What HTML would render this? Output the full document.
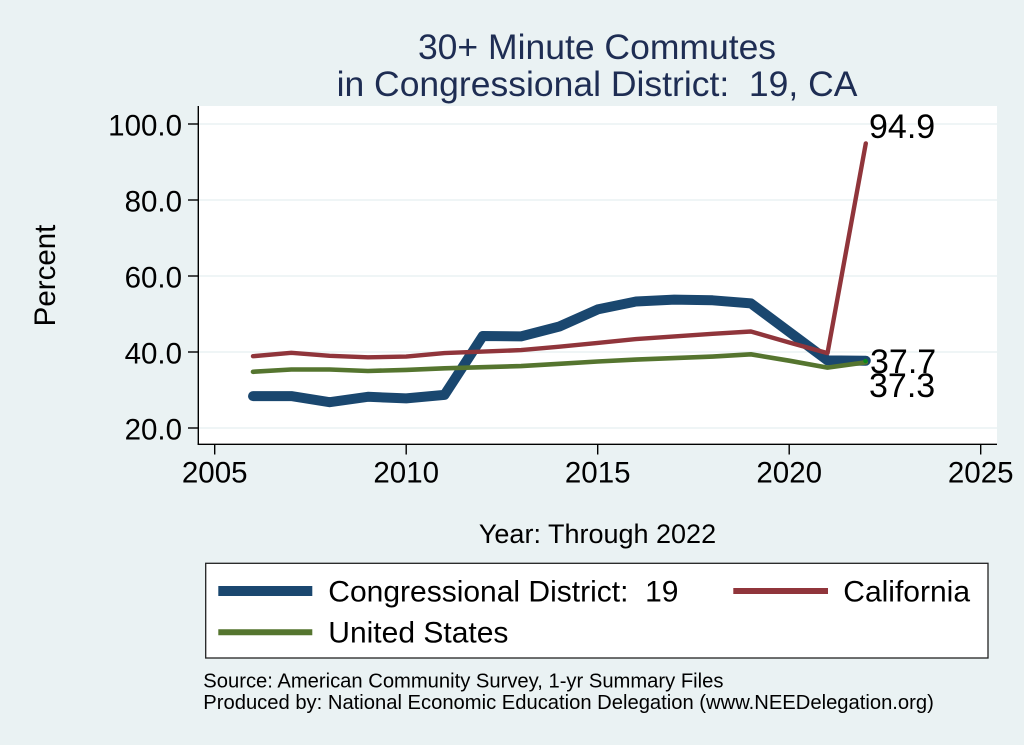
<!DOCTYPE html>
<html>
<head>
<meta charset="utf-8">
<style>
html,body{margin:0;padding:0;background:#eaf2f3;}
svg{display:block;}
text{font-family:"Liberation Sans",Arial,sans-serif;}
</style>
</head>
<body>
<svg width="1024" height="745" viewBox="0 0 1024 745" xmlns="http://www.w3.org/2000/svg">
  <rect x="0" y="0" width="1024" height="745" fill="#eaf2f3"/>
  <!-- Title -->
  <text x="597" y="59" font-size="35.5" fill="#1e2d53" text-anchor="middle">30+ Minute Commutes</text>
  <text x="597" y="96" font-size="35.5" fill="#1e2d53" text-anchor="middle" xml:space="preserve">in Congressional District:  19, CA</text>

  <!-- Plot region -->
  <rect x="198" y="106" width="799" height="338" fill="#ffffff"/>
  <!-- gridlines -->
  <g stroke="#eaf2f3" stroke-width="1.6">
    <line x1="198" y1="124" x2="997" y2="124"/>
    <line x1="198" y1="200" x2="997" y2="200"/>
    <line x1="198" y1="276" x2="997" y2="276"/>
    <line x1="198" y1="352" x2="997" y2="352"/>
    <line x1="198" y1="428" x2="997" y2="428"/>
  </g>
  <!-- axes -->
  <g stroke="#000" stroke-width="1.4" fill="none">
    <line x1="198.3" y1="106" x2="198.3" y2="444.5"/>
    <line x1="197.6" y1="444.3" x2="997" y2="444.3"/>
    <line x1="188" y1="124" x2="198" y2="124"/>
    <line x1="188" y1="200" x2="198" y2="200"/>
    <line x1="188" y1="276" x2="198" y2="276"/>
    <line x1="188" y1="352" x2="198" y2="352"/>
    <line x1="188" y1="428" x2="198" y2="428"/>
    <line x1="214.7" y1="444" x2="214.7" y2="454.5"/>
    <line x1="406.2" y1="444" x2="406.2" y2="454.5"/>
    <line x1="597.7" y1="444" x2="597.7" y2="454.5"/>
    <line x1="789.2" y1="444" x2="789.2" y2="454.5"/>
    <line x1="980.7" y1="444" x2="980.7" y2="454.5"/>
  </g>
  <!-- y tick labels -->
  <g font-size="29.5" fill="#000" text-anchor="end">
    <text x="182" y="135.5">100.0</text>
    <text x="182" y="211.5">80.0</text>
    <text x="182" y="287.5">60.0</text>
    <text x="182" y="363.5">40.0</text>
    <text x="182" y="439.5">20.0</text>
  </g>
  <!-- x tick labels -->
  <g font-size="29.5" fill="#000" text-anchor="middle">
    <text x="214.7" y="482.7">2005</text>
    <text x="406.2" y="482.7">2010</text>
    <text x="597.7" y="482.7">2015</text>
    <text x="789.2" y="482.7">2020</text>
    <text x="980.7" y="482.7">2025</text>
  </g>
  <!-- axis titles -->
  <text x="597.5" y="543" font-size="27" fill="#000" text-anchor="middle">Year: Through 2022</text>
  <text transform="translate(55,275.5) rotate(-90)" x="0" y="0" font-size="29.5" fill="#000" text-anchor="middle">Percent</text>

  <!-- Series -->
  <polyline fill="none" stroke="#1a476f" stroke-width="10" stroke-linecap="round" stroke-linejoin="round"
    points="253.0,396.1 291.3,396.1 329.6,402.2 367.9,396.8 406.2,398.4 444.5,394.9 482.8,336.0 521.1,336.4 559.4,326.5 597.7,309.4 636.0,301.5 674.3,299.6 712.6,300.3 750.9,303.4 789.2,331.9 827.5,360.4 865.8,360.7"/>
  <polyline fill="none" stroke="#90353b" stroke-width="4.4" stroke-linecap="round" stroke-linejoin="round"
    points="253.0,356.2 291.3,352.8 329.6,355.8 367.9,357.3 406.2,356.6 444.5,353.1 482.8,351.6 521.1,350.1 559.4,346.7 597.7,342.9 636.0,339.1 674.3,336.4 712.6,333.8 750.9,331.5 789.2,342.5 827.5,353.1 865.8,143.4"/>
  <polyline fill="none" stroke="#55752f" stroke-width="4.6" stroke-linecap="round" stroke-linejoin="round"
    points="253.0,371.8 291.3,369.5 329.6,369.5 367.9,371.0 406.2,369.9 444.5,368.3 482.8,367.2 521.1,366.1 559.4,363.8 597.7,361.5 636.0,359.6 674.3,358.1 712.6,356.6 750.9,354.3 789.2,360.7 827.5,367.6 865.8,362.3"/>
  <circle cx="865.5" cy="361" r="2.2" fill="#0a8a1a"/>

  <!-- end labels -->
  <g font-size="34" fill="#000">
    <text x="869" y="138">94.9</text>
    <text x="870" y="373">37.7</text>
    <text x="869" y="397">37.3</text>
  </g>

  <!-- Legend -->
  <rect x="205.7" y="563.3" width="782.3" height="94.7" fill="#ffffff" stroke="#222" stroke-width="1.3"/>
  <line x1="218.3" y1="591" x2="312.3" y2="591" stroke="#1a476f" stroke-width="10"/>
  <line x1="733.3" y1="591" x2="828" y2="591" stroke="#90353b" stroke-width="6"/>
  <line x1="218.3" y1="632.3" x2="312.3" y2="632.3" stroke="#55752f" stroke-width="6"/>
  <g font-size="30" fill="#000">
    <text x="328.3" y="601.5" xml:space="preserve">Congressional District:  19</text>
    <text x="843.3" y="601.5">California</text>
    <text x="328.3" y="642.7">United States</text>
  </g>

  <!-- Notes -->
  <g font-size="20.2" fill="#000">
    <text x="203.3" y="687.5">Source: American Community Survey, 1-yr Summary Files</text>
    <text x="203.3" y="709">Produced by: National Economic Education Delegation (www.NEEDelegation.org)</text>
  </g>
</svg>
</body>
</html>
